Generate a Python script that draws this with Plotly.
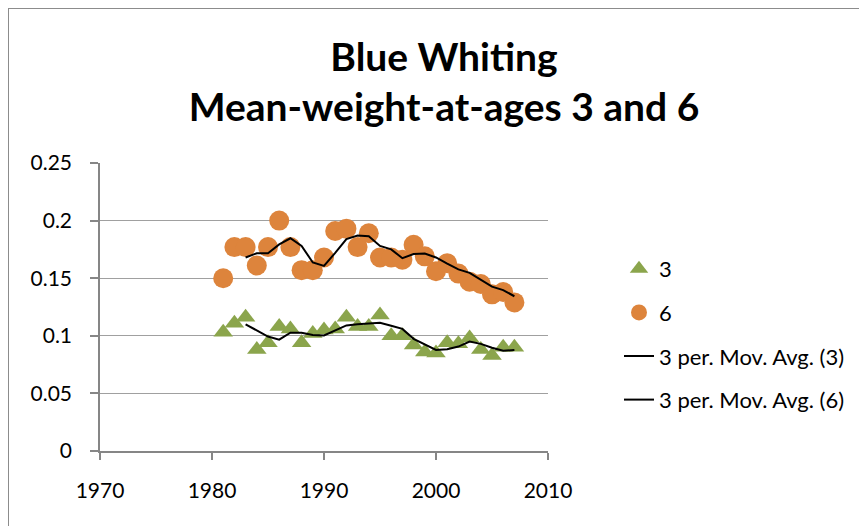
import plotly.graph_objects as go
import pandas as pd

years = list(range(1981, 2008))
age3 = [0.103, 0.111, 0.116, 0.088, 0.094, 0.108, 0.106, 0.094, 0.102, 0.105,
        0.106, 0.116, 0.108, 0.108, 0.118, 0.100, 0.100, 0.092, 0.086, 0.085,
        0.094, 0.093, 0.098, 0.088, 0.083, 0.090, 0.090]
age6 = [0.150, 0.177, 0.177, 0.161, 0.177, 0.200, 0.177, 0.157, 0.157, 0.168,
        0.191, 0.193, 0.177, 0.189, 0.168, 0.168, 0.166, 0.179, 0.169, 0.156,
        0.163, 0.154, 0.147, 0.145, 0.136, 0.138, 0.129]
x_ticks = [1970, 1980, 1990, 2000, 2010]
y_ticks = [0, 0.05, 0.1, 0.15, 0.2, 0.25]

ma3 = pd.Series(age3).rolling(3).mean()
ma6 = pd.Series(age6).rolling(3).mean()

FONT = "Lato"
GREEN = "#8BA54C"
ORANGE = "#DD843C"

fig = go.Figure()
fig.add_trace(go.Scatter(x=years, y=age3, mode="markers", name="3", legendgroup="a",
                         marker=dict(symbol="triangle-up", size=17, color=GREEN)))
fig.add_trace(go.Scatter(x=years, y=age6, mode="markers", name="6", legendgroup="b",
                         marker=dict(symbol="circle", size=20, color=ORANGE)))
fig.add_trace(go.Scatter(x=years, y=ma3, mode="lines", name="3 per. Mov. Avg. (3)", legendgroup="c",
                         line=dict(color="black", width=2)))
fig.add_trace(go.Scatter(x=years, y=ma6, mode="lines", name="3 per. Mov. Avg. (6)", legendgroup="d",
                         line=dict(color="black", width=2)))

# page has an 8px body margin; figure coordinates = page coordinates - 8
OFF = 8
W, H = 867 - OFF, 526 - OFF
L, T = 100 - OFF, 163 - OFF
pw, ph = 448, 288
R, B = W - L - pw, H - T - ph

def px2paper_x(px):
    return (px - OFF - L) / pw

def px2paper_y(py):
    return (T + ph - (py - OFF)) / ph

fig.update_layout(
    width=W, height=H,
    margin=dict(l=L, r=R, t=T, b=B, autoexpand=False),
    paper_bgcolor="white", plot_bgcolor="white",
    font=dict(family=FONT, size=21, color="black"),
    title=dict(text="<b>Blue Whiting<br>Mean-weight-at-ages 3 and 6</b>",
               x=(444 - OFF) / W, xanchor="center", xref="container",
               y=1 - (70.5 - OFF) / H, yanchor="middle", yref="container",
               font=dict(family=FONT, size=39, color="black")),
    xaxis=dict(range=[1970, 2010], tickvals=x_ticks, showgrid=False,
               showline=True, linecolor="#868686", linewidth=1.5,
               ticks="outside", ticklen=7, tickcolor="#868686", tickwidth=1.5,
               ticklabelstandoff=13, zeroline=False),
    yaxis=dict(range=[0, 0.25], tickvals=y_ticks, showgrid=True,
               gridcolor="#a0a0a0", gridwidth=1.3,
               showline=True, linecolor="#868686", linewidth=1.5,
               ticks="outside", ticklen=8, tickcolor="#868686", tickwidth=1.5,
               ticklabelstandoff=14, zeroline=False),
    legend=dict(x=px2paper_x(619), y=px2paper_y(248), xanchor="left", yanchor="top",
                xref="paper", yref="paper", tracegroupgap=12,
                font=dict(family=FONT, size=22), bgcolor="rgba(0,0,0,0)"),
    showlegend=True,
    shapes=[dict(type="rect", xref="paper", yref="paper",
                 x0=px2paper_x(8), x1=px2paper_x(890),
                 y0=px2paper_y(560), y1=px2paper_y(8),
                 line=dict(color="#8c8c8c", width=2), fillcolor="rgba(0,0,0,0)",
                 layer="below")],
)

fig.write_html("out.html")
